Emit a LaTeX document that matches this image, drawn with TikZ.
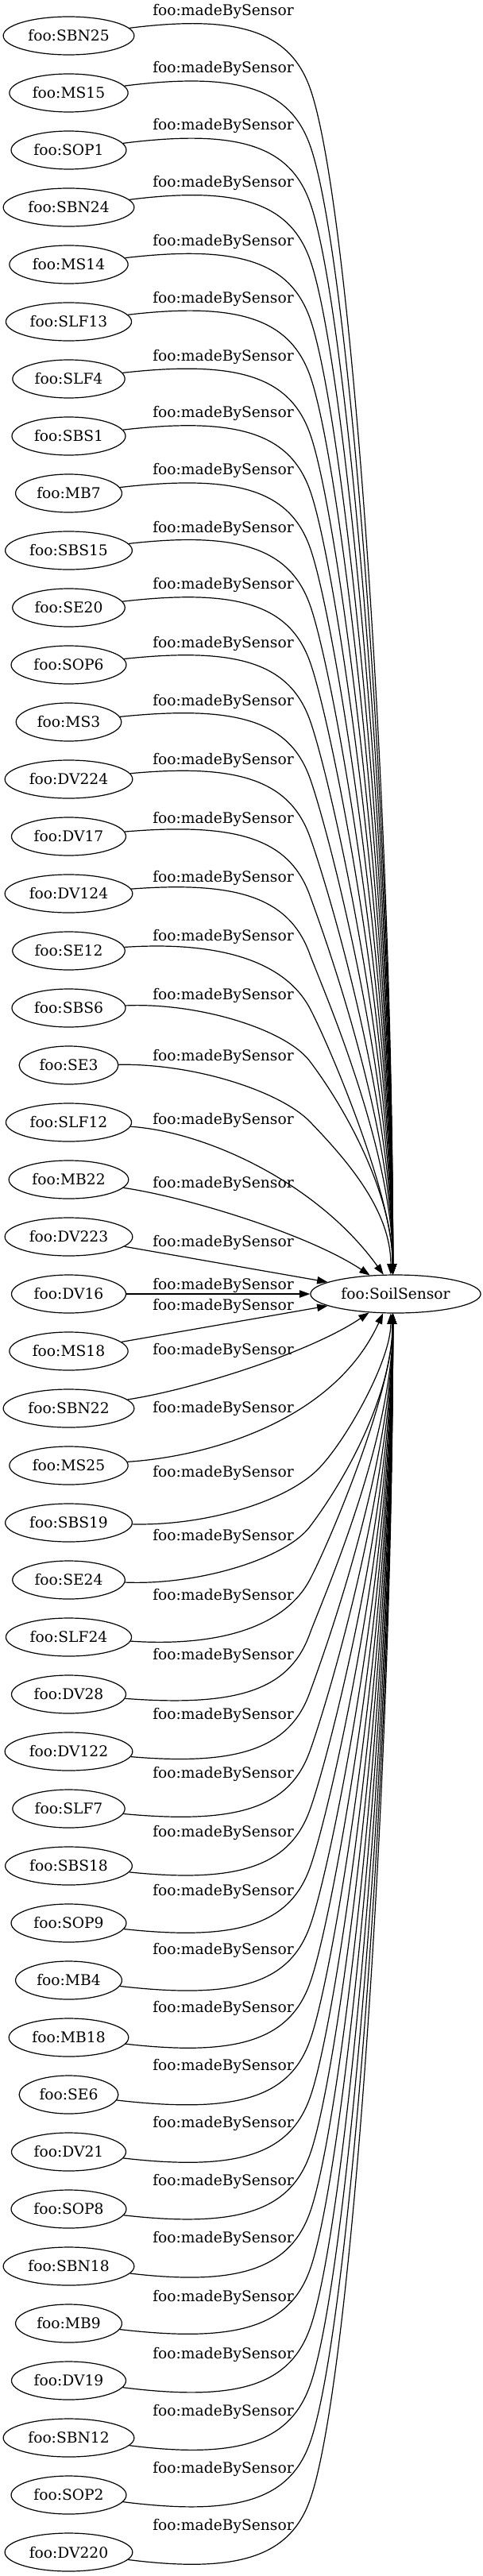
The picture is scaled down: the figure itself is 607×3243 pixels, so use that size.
\documentclass[tikz,border=0pt]{standalone}
\usepackage{fontspec}
\setmainfont{DejaVu Serif}
\usetikzlibrary{arrows.meta,shapes.geometric}
\begin{document}
\begin{tikzpicture}[x=0.75pt,y=-0.75pt,
  nd/.style={draw,ellipse,line width=0.9pt,minimum height=36pt,inner xsep=5.35pt,inner ysep=2pt,font=\fontsize{14}{17}\selectfont},
  lbl/.style={inner sep=0pt,font=\fontsize{14}{17}\selectfont},
  edge/.style={line width=0.9pt,-{Triangle[length=10pt,width=7pt]}}]
\useasboundingbox (0,0) rectangle (607,3243);
% source nodes
\foreach \i/\nm in {0/SBN25,1/MS15,2/SOP1,3/SBN24,4/MS14,5/SLF13,6/SLF4,7/SBS1,8/MB7,9/SBS15,10/SE20,11/SOP6,12/MS3,13/DV224,14/DV17,15/DV124,16/SE12,17/SBS6,18/SE3,19/SLF12,20/MB22,21/DV223,22/DV16,23/MS18,24/SBN22,25/MS25,26/SBS19,27/SE24,28/SLF24,29/DV28,30/DV122,31/SLF7,32/SBS18,33/SOP9,34/MB4,35/MB18,36/SE6,37/DV21,38/SOP8,39/SBN18,40/MB9,41/DV19,42/SBN12,43/SOP2,44/DV220}
  \node[nd] (n\i) at (86.5,{45+72*\i}) {foo:\nm};
\node[nd] (soil) at (498,1629) {foo:SoilSensor};
% edge labels
\foreach \i/\LL in {0/14.3,1/86.3,2/158.3,3/230.3,4/304.3,5/376.3,6/449.3,7/520.7,8/592.7,9/665,10/736.7,11/810.3,12/883.3,13/957.3,14/1031.3,15/1105.3,16/1179.3,17/1253,18/1330,19/1410.7,20/1490,21/1564,22/1618.3,23/1644,24/1700,25/1773,26/1854,27/1934,28/2009.3,29/2084.3,30/2159.3,31/2233.3,32/2307.3,33/2381.3,34/2455.3,35/2528.3,36/2601.3,37/2673.3,38/2746.7,39/2818.3,40/2892.3,41/2964.3,42/3036.3,43/3108.3,44/3180.3}
  \node[lbl] (l\i) at (281,\LL) {foo:madeBySensor};
% generic upper edges and their mirrored lower partners
\foreach \i/\LL in {0/14.3,1/86.3,2/158.3,3/230.3,4/304.3,5/376.3,6/449.3,7/520.7,8/592.7,9/665,10/736.7,11/810.3,12/883.3,13/957.3,14/1031.3,15/1105.3}{
  \pgfmathsetmacro\qy{\LL+96}
  \pgfmathsetmacro\rr{1605-\qy}
  \pgfmathsetmacro\dd{0.1*\rr}
  \pgfmathsetmacro\ee{0.4*\rr}
  \pgfmathtruncatemacro\j{44-\i}
  \draw[edge] (n\i) .. controls ({300},{\LL+3.7}) and ({364.5},{\LL+25.2}) .. ({390},{\qy})
     .. controls ({390+0.342*\dd},{\qy+0.94*\dd}) and ({494.6},{1605-\ee}) .. (soil.98);
  \draw[edge] (n\j) .. controls ({300},{3258-\LL-3.7}) and ({364.5},{3258-\LL-25.2}) .. ({390},{3258-\qy})
     .. controls ({390+0.342*\dd},{3258-\qy-0.94*\dd}) and ({494.6},{1653+\ee}) .. (soil.262);
}
% middle edges, upper half
\draw[edge] (n16) .. controls (280,1184.3) and (359.5,1211.9) .. (390,1269.3)
   .. controls (413.6,1313.8) and (494.6,1504.3) .. (soil.98);
\draw[edge] (n17) .. controls (250,1262) and (359.9,1296) .. (390,1336)
   .. controls (438.2,1399.9) and (494,1505) .. (soil.99);
\draw[edge] (n18) .. controls (250,1339) and (355.3,1376) .. (390,1412)
   .. controls (438.6,1462.3) and (492,1525) .. (soil.104);
\draw[edge] (n19) .. controls (260,1424.7) and (400,1489.7) .. (soil.122);
\draw[edge] (n20) .. controls (240,1508) and (390,1555) .. (soil.144.5);
\draw[edge] (n21) -- (soil);
\draw[edge] (n22) -- (soil);
% middle edges, lower half
\draw[edge] (n23) -- (soil);
\draw[edge] (n24) .. controls (240,1750) and (390,1703) .. (soil.215.5);
\draw[edge] (n25) .. controls (260,1834) and (420,1790) .. (soil.237.7);
\draw[edge] (n26) .. controls (260,1921) and (360,1890) .. (400,1850)
   .. controls (435,1815) and (492,1713) .. (soil.256);
\draw[edge] (n27) .. controls (250,1996) and (359.9,1962) .. (390,1922)
   .. controls (438.2,1858.1) and (494,1753) .. (soil.261);
\draw[edge] (n28) .. controls (280,2073.7) and (359.5,2046.1) .. (390,1988.7)
   .. controls (413.6,1944.2) and (494.6,1753.7) .. (soil.262);
\end{tikzpicture}
\end{document}
